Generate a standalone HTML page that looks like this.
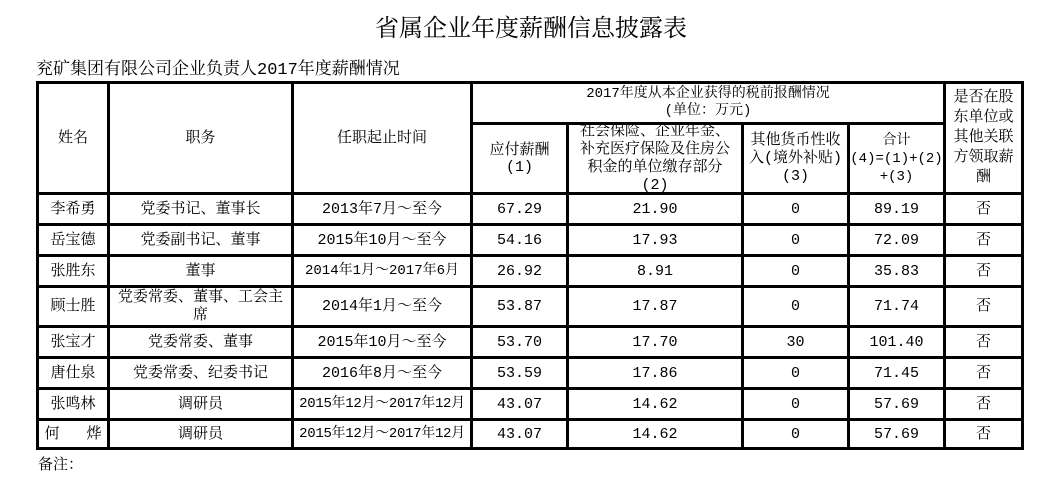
<!DOCTYPE html>
<html><head><meta charset="utf-8"><style>
body{margin:0;width:1062px;height:490px;background:#fff;position:relative;overflow:hidden;font-family:"Liberation Mono","Noto Serif CJK SC",serif;color:#000}
.l{position:absolute;background:#000}
.c{position:absolute;display:flex;align-items:center;justify-content:center;text-align:center;font-size:15px;line-height:17px}
</style></head><body>
<div class="c" style="left:0;top:12px;width:1062px;height:36px;font-size:24px">省属企业年度薪酬信息披露表</div>
<div class="c" style="left:36px;top:59px;height:22px;font-size:17px;justify-content:flex-start;white-space:nowrap">兖矿集团有限公司企业负责人2017年度薪酬情况</div>
<div class="c" style="left:38px;top:453px;height:24px;font-size:15px;white-space:nowrap">备注：</div>

<div class="l" style="left:36px;top:81px;width:988px;height:3px"></div>
<div class="l" style="left:470px;top:122px;width:474px;height:3px"></div>
<div class="l" style="left:36px;top:192px;width:988px;height:3px"></div>
<div class="l" style="left:36px;top:223px;width:988px;height:3px"></div>
<div class="l" style="left:36px;top:254px;width:988px;height:3px"></div>
<div class="l" style="left:36px;top:285px;width:988px;height:3px"></div>
<div class="l" style="left:36px;top:325px;width:988px;height:3px"></div>
<div class="l" style="left:36px;top:356px;width:988px;height:3px"></div>
<div class="l" style="left:36px;top:387px;width:988px;height:3px"></div>
<div class="l" style="left:36px;top:418px;width:988px;height:3px"></div>
<div class="l" style="left:36px;top:447px;width:988px;height:3px"></div>
<div class="l" style="left:36px;top:81px;width:3px;height:369px"></div>
<div class="l" style="left:107px;top:81px;width:3px;height:369px"></div>
<div class="l" style="left:291px;top:81px;width:3px;height:369px"></div>
<div class="l" style="left:470px;top:81px;width:3px;height:369px"></div>
<div class="l" style="left:566px;top:122px;width:3px;height:328px"></div>
<div class="l" style="left:741px;top:122px;width:3px;height:328px"></div>
<div class="l" style="left:847px;top:122px;width:3px;height:328px"></div>
<div class="l" style="left:943px;top:81px;width:3px;height:369px"></div>
<div class="l" style="left:1021px;top:81px;width:3px;height:369px"></div>

<div class="c" style="left:39px;top:84px;width:68px;height:108px">姓名</div>
<div class="c" style="left:110px;top:84px;width:181px;height:108px">职务</div>
<div class="c" style="left:294px;top:84px;width:176px;height:108px">任职起止时间</div>
<div class="c" style="left:473px;top:84px;width:470px;height:38px;font-size:14px">2017年度从本企业获得的税前报酬情况<br>(单位：万元)</div>
<div class="c" style="left:473px;top:125px;width:93px;height:67px">应付薪酬<br>(1)</div>
<div class="c" style="left:569px;top:123px;width:172px;height:69px;align-items:flex-start;overflow:hidden;line-height:18px">社会保险、企业年金、<br>补充医疗保险及住房公<br>积金的单位缴存部分<br>(2)</div>
<div class="c" style="left:744px;top:125px;width:103px;height:67px;line-height:18px">其他货币性收<br>入(境外补贴)<br>(3)</div>
<div class="c" style="left:850px;top:125px;width:93px;height:67px;line-height:18px;font-size:14px">合计<br>(4)=(1)+(2)<br>+(3)</div>
<div class="c" style="left:946px;top:84px;width:75px;height:108px;line-height:20px">是否在股<br>东单位或<br>其他关联<br>方领取薪<br>酬</div>

<div class="c" style="left:39px;top:195px;width:68px;height:28px">李希勇</div><div class="c" style="left:110px;top:195px;width:181px;height:28px">党委书记、董事长</div><div class="c" style="left:294px;top:195px;width:176px;height:28px">2013年7月～至今</div><div class="c" style="left:473px;top:195px;width:93px;height:28px">67.29</div><div class="c" style="left:569px;top:195px;width:172px;height:28px">21.90</div><div class="c" style="left:744px;top:195px;width:103px;height:28px">0</div><div class="c" style="left:850px;top:195px;width:93px;height:28px">89.19</div><div class="c" style="left:946px;top:195px;width:75px;height:28px">否</div>

<div class="c" style="left:39px;top:226px;width:68px;height:28px">岳宝德</div><div class="c" style="left:110px;top:226px;width:181px;height:28px">党委副书记、董事</div><div class="c" style="left:294px;top:226px;width:176px;height:28px">2015年10月～至今</div><div class="c" style="left:473px;top:226px;width:93px;height:28px">54.16</div><div class="c" style="left:569px;top:226px;width:172px;height:28px">17.93</div><div class="c" style="left:744px;top:226px;width:103px;height:28px">0</div><div class="c" style="left:850px;top:226px;width:93px;height:28px">72.09</div><div class="c" style="left:946px;top:226px;width:75px;height:28px">否</div>

<div class="c" style="left:39px;top:257px;width:68px;height:28px">张胜东</div><div class="c" style="left:110px;top:257px;width:181px;height:28px">董事</div><div class="c" style="left:294px;top:257px;width:176px;height:28px;font-size:14px;white-space:nowrap">2014年1月～2017年6月</div><div class="c" style="left:473px;top:257px;width:93px;height:28px">26.92</div><div class="c" style="left:569px;top:257px;width:172px;height:28px">8.91</div><div class="c" style="left:744px;top:257px;width:103px;height:28px">0</div><div class="c" style="left:850px;top:257px;width:93px;height:28px">35.83</div><div class="c" style="left:946px;top:257px;width:75px;height:28px">否</div>

<div class="c" style="left:39px;top:288px;width:68px;height:37px">顾士胜</div><div class="c" style="left:110px;top:288px;width:181px;height:37px;line-height:18px">党委常委、董事、工会主<br>席</div><div class="c" style="left:294px;top:288px;width:176px;height:37px">2014年1月～至今</div><div class="c" style="left:473px;top:288px;width:93px;height:37px">53.87</div><div class="c" style="left:569px;top:288px;width:172px;height:37px">17.87</div><div class="c" style="left:744px;top:288px;width:103px;height:37px">0</div><div class="c" style="left:850px;top:288px;width:93px;height:37px">71.74</div><div class="c" style="left:946px;top:288px;width:75px;height:37px">否</div>

<div class="c" style="left:39px;top:328px;width:68px;height:28px">张宝才</div><div class="c" style="left:110px;top:328px;width:181px;height:28px">党委常委、董事</div><div class="c" style="left:294px;top:328px;width:176px;height:28px">2015年10月～至今</div><div class="c" style="left:473px;top:328px;width:93px;height:28px">53.70</div><div class="c" style="left:569px;top:328px;width:172px;height:28px">17.70</div><div class="c" style="left:744px;top:328px;width:103px;height:28px">30</div><div class="c" style="left:850px;top:328px;width:93px;height:28px">101.40</div><div class="c" style="left:946px;top:328px;width:75px;height:28px">否</div>

<div class="c" style="left:39px;top:359px;width:68px;height:28px">唐仕泉</div><div class="c" style="left:110px;top:359px;width:181px;height:28px">党委常委、纪委书记</div><div class="c" style="left:294px;top:359px;width:176px;height:28px">2016年8月～至今</div><div class="c" style="left:473px;top:359px;width:93px;height:28px">53.59</div><div class="c" style="left:569px;top:359px;width:172px;height:28px">17.86</div><div class="c" style="left:744px;top:359px;width:103px;height:28px">0</div><div class="c" style="left:850px;top:359px;width:93px;height:28px">71.45</div><div class="c" style="left:946px;top:359px;width:75px;height:28px">否</div>

<div class="c" style="left:39px;top:390px;width:68px;height:28px">张鸣林</div><div class="c" style="left:110px;top:390px;width:181px;height:28px">调研员</div><div class="c" style="left:292px;top:390px;width:180px;height:28px;white-space:nowrap;font-size:14px;letter-spacing:-0.3px">2015年12月～2017年12月</div><div class="c" style="left:473px;top:390px;width:93px;height:28px">43.07</div><div class="c" style="left:569px;top:390px;width:172px;height:28px">14.62</div><div class="c" style="left:744px;top:390px;width:103px;height:28px">0</div><div class="c" style="left:850px;top:390px;width:93px;height:28px">57.69</div><div class="c" style="left:946px;top:390px;width:75px;height:28px">否</div>

<div class="c" style="left:39px;top:421px;width:68px;height:26px">何&nbsp;&nbsp;&nbsp;烨</div><div class="c" style="left:110px;top:421px;width:181px;height:26px">调研员</div><div class="c" style="left:292px;top:421px;width:180px;height:26px;white-space:nowrap;font-size:14px;letter-spacing:-0.3px">2015年12月～2017年12月</div><div class="c" style="left:473px;top:421px;width:93px;height:26px">43.07</div><div class="c" style="left:569px;top:421px;width:172px;height:26px">14.62</div><div class="c" style="left:744px;top:421px;width:103px;height:26px">0</div><div class="c" style="left:850px;top:421px;width:93px;height:26px">57.69</div><div class="c" style="left:946px;top:421px;width:75px;height:26px">否</div>
</body></html>
